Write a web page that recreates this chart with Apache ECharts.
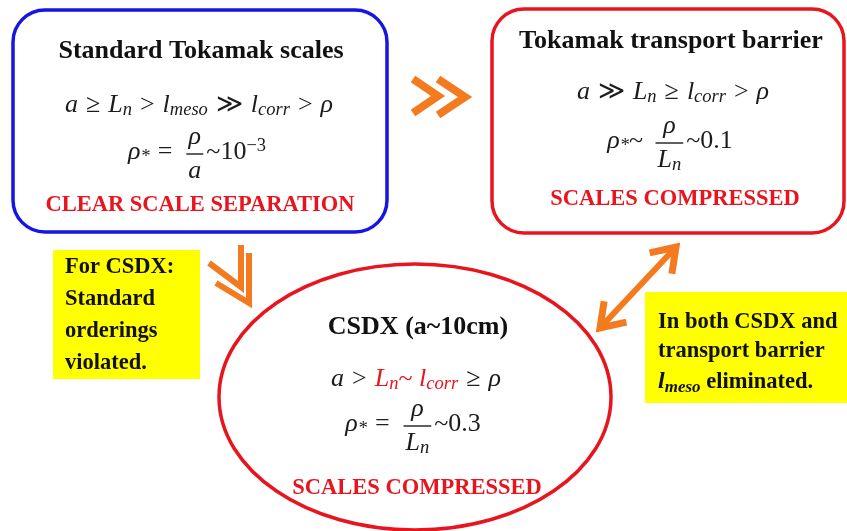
<!DOCTYPE html>
<html><head><meta charset="utf-8">
<script src="https://cdn.jsdelivr.net/npm/echarts@6/dist/echarts.min.js"></script>
<style>html,body{margin:0;padding:0;background:#fff}#c{width:847px;height:531px}</style>
</head><body><div id="c"></div>
<script>
// ---------- content ----------
const boxTitles = ['Standard Tokamak scales', 'Tokamak transport barrier', 'CSDX (a~10cm)'];
const boxVerdicts = ['CLEAR SCALE SEPARATION', 'SCALES COMPRESSED', 'SCALES COMPRESSED'];
// orderings: [text, style]
const orderStandard = [['a','i'],[' ≥ ','o'],['L','i'],['n','s'],[' > ','o'],['l','i'],['meso','s'],[' ≫ ','o'],['l','i'],['corr','s'],[' > ','o'],['ρ','i']];
const orderBarrier  = [['a','i'],[' ≫ ','o'],['L','i'],['n','s'],[' ≥ ','o'],['l','i'],['corr','s'],[' > ','o'],['ρ','i']];
const orderCSDX     = [['a','i'],[' > ','o'],['L','ri'],['n','rs'],['~ ','rn'],['l','ri'],['corr','rs'],[' ≥ ','o'],['ρ','i']];
// rho-star expressions
const rhoStarStandard = {pre:[['ρ','i'],['*','s'],[' = ','o']], num:[['ρ','i']], den:[['a','i']], post:[['~10','n'],['−3','sup']]};
const rhoStarBarrier  = {pre:[['ρ','i'],['*','s'],['~ ','n']], num:[['ρ','i']], den:[['L','i'],['n','s']], post:[['~0.1','n']]};
const rhoStarCSDX     = {pre:[['ρ','i'],['*','s'],[' = ','o']], num:[['ρ','i']], den:[['L','i'],['n','s']], post:[['~0.3','n']]};
// notes
const noteLeft = ['For CSDX:', 'Standard', 'orderings', 'violated.'];
const noteRight = [[['In both CSDX and','b']], [['transport barrier','b']], [['l','bi'],['meso','bs'],[' eliminated.','b']]];

// ---------- styling ----------
const MF = '"Liberation Serif", "DejaVu Serif", serif';
const TF = '"Liberation Serif", "Times New Roman", serif';
const INK = '#1c1c1c';
const RED = '#e8141e';
const BLUE = '#1616e0';
const ORANGE = '#f47a20';
const YELLOW = '#ffff00';
const M = 26, S = 18.5, OPAD = 1.5;
const STY = {
  i:  {fontStyle:'italic', fontWeight:'normal', fontSize:M, fill:INK, lineHeight:30},
  n:  {fontStyle:'normal', fontWeight:'normal', fontSize:M, fill:INK, lineHeight:30},
  o:  {fontStyle:'normal', fontWeight:'normal', fontSize:M, fill:INK, lineHeight:30, padding:[0,OPAD,0,OPAD]},
  s:  {fontStyle:'italic', fontWeight:'normal', fontSize:S, fill:INK, lineHeight:14, verticalAlign:'bottom'},
  sup:{fontStyle:'normal', fontWeight:'normal', fontSize:S, fill:INK, lineHeight:24, verticalAlign:'top'},
  ri: {fontStyle:'italic', fontWeight:'normal', fontSize:M, fill:RED, lineHeight:30},
  rn: {fontStyle:'normal', fontWeight:'normal', fontSize:M, fill:RED, lineHeight:30},
  rs: {fontStyle:'italic', fontWeight:'normal', fontSize:S, fill:RED, lineHeight:14, verticalAlign:'bottom'},
  b:  {fontStyle:'normal', fontWeight:'bold', fontSize:22.5, fill:'#111', lineHeight:28},
  bi: {fontStyle:'italic', fontWeight:'bold', fontSize:24, fill:'#111', lineHeight:28},
  bs: {fontStyle:'italic', fontWeight:'bold', fontSize:17, fill:'#111', lineHeight:12, verticalAlign:'bottom'}
};
const RICH = {};
Object.keys(STY).forEach(k => { RICH[k] = Object.assign({fontFamily: MF}, STY[k]); });

const cv = document.createElement('canvas');
const ctx = cv.getContext('2d');
function fontStr(st){ return st.fontStyle + ' ' + st.fontWeight + ' ' + st.fontSize + 'px ' + MF; }
function tokW(t){
  const st = STY[t[1]];
  ctx.font = fontStr(st);
  const pad = st.padding ? st.padding[1] + st.padding[3] : 0;
  return ctx.measureText(t[0]).width + pad;
}
function seqW(seq){ return seq.reduce((a, t) => a + tokW(t), 0); }
function richStr(seq){ return seq.map(t => '{' + t[1] + '|' + t[0] + '}').join(''); }
function seqEl(x, y, seq){
  return {type:'text', x:x, y:y, z:10, style:{text:richStr(seq), rich:RICH, align:'left', verticalAlign:'middle', fill:INK}};
}

const els = [];
// shapes
els.push({type:'rect', z:1, shape:{x:13, y:10, width:374, height:222, r:32}, style:{fill:'#fff', stroke:BLUE, lineWidth:3.5}});
els.push({type:'rect', z:1, shape:{x:492, y:9, width:352, height:224, r:32}, style:{fill:'#fff', stroke:RED, lineWidth:3.5}});
els.push({type:'ellipse', z:1, shape:{cx:415, cy:397, rx:196, ry:133}, style:{fill:'#fff', stroke:RED, lineWidth:3.5}});
els.push({type:'rect', z:1, shape:{x:53, y:250, width:147, height:129}, style:{fill:YELLOW}});
els.push({type:'rect', z:1, shape:{x:645, y:292, width:202, height:111}, style:{fill:YELLOW}});

// arrows
function pl(points, lw){ return {type:'polyline', z:2, shape:{points:points}, style:{stroke:ORANGE, lineWidth:lw, fill:null, lineJoin:'miter', lineCap:'butt'}}; }
els.push(pl([[413,79],[438,96],[413,113]], 8));
els.push(pl([[438,79],[465,97],[438,115]], 8));
els.push(pl([[209,263],[241,287],[241,245]], 6));
els.push(pl([[216,283],[249,303],[249,253]], 6));
(function(){
  const A = [600,328], B = [676,247];
  els.push({type:'line', z:2, shape:{x1:A[0], y1:A[1], x2:B[0], y2:B[1]}, style:{stroke:ORANGE, lineWidth:6}});
  const ang = Math.atan2(B[1]-A[1], B[0]-A[0]);
  const L = 27, da = 0.6;
  [[B, ang + Math.PI], [A, ang]].forEach(([P, base]) => {
    els.push(pl([[P[0] + L*Math.cos(base - da), P[1] + L*Math.sin(base - da)], P, [P[0] + L*Math.cos(base + da), P[1] + L*Math.sin(base + da)]], 7));
  });
})();

// titles & verdicts
const titlePos = [[201,51],[671,41.5],[418,327]];
const verdictPos = [[200,205],[675,199],[417,488]];
boxTitles.forEach((t, k) => els.push({type:'text', z:10, x:titlePos[k][0], y:titlePos[k][1], style:{text:t, fontFamily:TF, fontWeight:'bold', fontSize:26, fill:'#111', align:'center', verticalAlign:'middle'}}));
boxVerdicts.forEach((t, k) => els.push({type:'text', z:10, x:verdictPos[k][0], y:verdictPos[k][1], style:{text:t, fontFamily:TF, fontWeight:'bold', fontSize:22.5, fill:RED, align:'center', verticalAlign:'middle'}}));

// orderings
function mathLine(seq, cx, cy){ const w = seqW(seq); els.push(seqEl(cx - w/2, cy, seq)); }
mathLine(orderStandard, 199, 105);
mathLine(orderBarrier, 673, 92);
mathLine(orderCSDX, 416, 379);

// rho-star fractions
function fracLine(f, cx, bar){
  const wPre = seqW(f.pre), wNum = seqW(f.num), wDen = seqW(f.den), wPost = seqW(f.post);
  const fw = Math.max(wNum, wDen) + 4, gapL = 6, gapR = 3;
  const total = wPre + gapL + fw + gapR + wPost;
  let x = cx - total/2;
  const ly = bar - 2;
  els.push(seqEl(x, ly, f.pre)); x += wPre + gapL;
  els.push({type:'line', z:10, shape:{x1:x, y1:bar, x2:x + fw, y2:bar}, style:{stroke:INK, lineWidth:1.4}});
  els.push(seqEl(x + fw/2 - wNum/2, bar - 17, f.num));
  els.push(seqEl(x + fw/2 - wDen/2, bar + 17, f.den));
  x += fw + gapR;
  els.push(seqEl(x, ly, f.post));
}
fracLine(rhoStarStandard, 197, 154);
fracLine(rhoStarBarrier, 670, 143);
fracLine(rhoStarCSDX, 413, 426);

// notes
noteLeft.forEach((t, k) => els.push({type:'text', z:10, x:65, y:267.5 + k*32, style:{text:t, fontFamily:TF, fontWeight:'bold', fontSize:22.5, fill:'#111', align:'left', verticalAlign:'middle'}}));
const noteRightY = [322, 351, 382];
noteRight.forEach((seq, k) => els.push(seqEl(658, noteRightY[k], seq)));

const chart = echarts.init(document.getElementById('c'), null, {renderer:'canvas'});
chart.setOption({animation:false, backgroundColor:'#fff', graphic:{elements:els}});
</script>
</body></html>
